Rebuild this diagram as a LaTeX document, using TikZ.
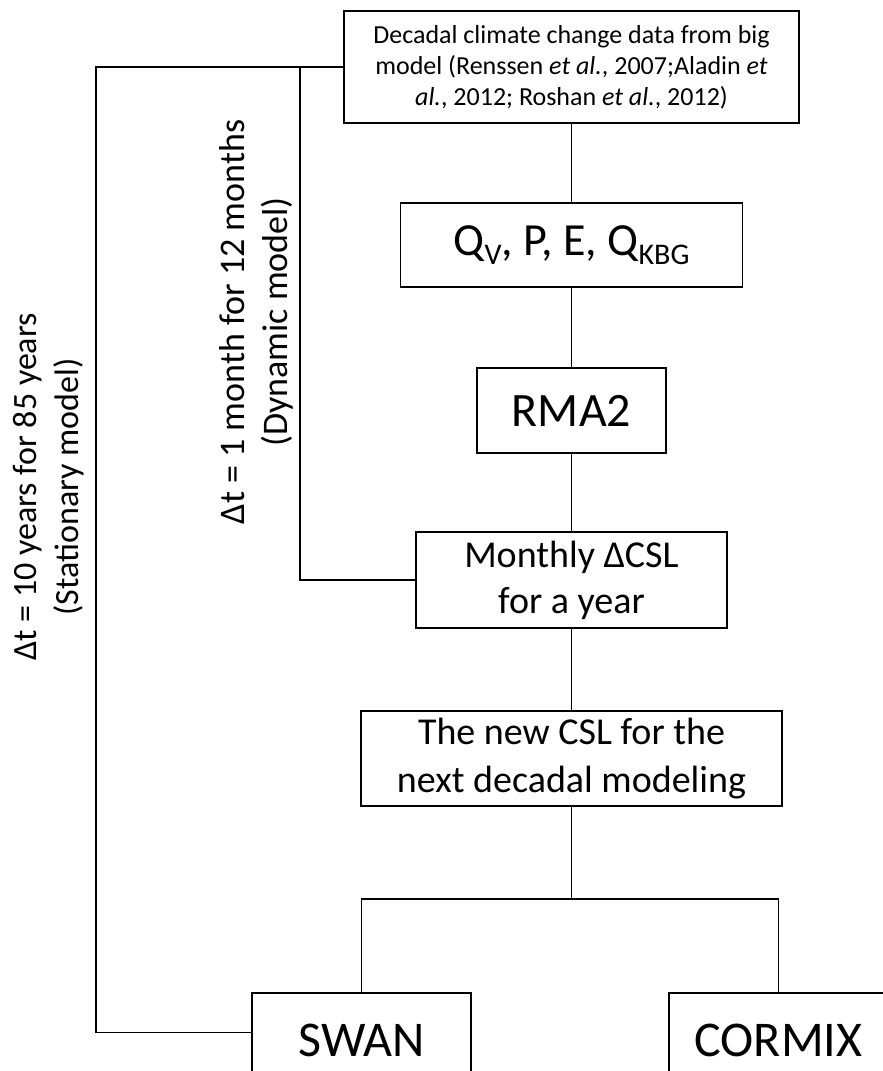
\documentclass[tikz,border=0pt]{standalone}
\usepackage{fontspec}
\setmainfont{Carlito}
\tikzset{
  flowbox/.style={draw, line width=1.3pt, align=center, inner sep=0pt},
  link/.style={line width=1.3pt}
}
\newcommand{\fs}[2]{\fontsize{#1}{#2}\selectfont}
\newcommand{\lowsub}[1]{\raisebox{-9pt}{\fs{30}{30}#1}}

\begin{document}
\begin{tikzpicture}[x=1pt, y=-1pt]
\useasboundingbox (0,0) rectangle (883,1071);
\clip (0,0) rectangle (883,1071);
\node[flowbox, minimum width=455pt, minimum height=112pt, font=\fs{26}{31}] (data) at (571.5,67) {Decadal climate change data from big\\model (Renssen \textit{et al.}, 2007;Aladin \textit{et}\\\textit{al.}, 2012; Roshan \textit{et al.}, 2012)};
\node[flowbox, minimum width=342pt, minimum height=84pt, font=\fs{46}{50}] (drivers) at (571.5,245) {Q\lowsub{V}, P, E, Q\lowsub{KBG}};
\node[flowbox, minimum width=189pt, minimum height=85pt, font=\fs{48}{50}] (rma) at (571.5,410.5) {RMA2};
\node[flowbox, minimum width=311pt, minimum height=96pt, font=\fs{38}{46}] (monthly) at (571.5,580) {Monthly ΔCSL\\for a year};
\node[flowbox, minimum width=421pt, minimum height=95pt, font=\fs{38}{48}] (newcsl) at (571.5,758.5) {The new CSL for the\\next decadal modeling};
\node[flowbox, minimum width=219pt, minimum height=94pt, font=\fs{50}{50}] (swan) at (361.5,1040) {SWAN};
\node[flowbox, minimum width=219pt, minimum height=94pt, font=\fs{50}{50}] (cormix) at (778.5,1040) {CORMIX};
\node[rotate=90, align=center, font=\fs{34}{42}] (stationary) at (49,487) {Δt = 10 years for 85 years\\(Stationary model)};
\node[rotate=90, align=center, font=\fs{36}{43}] (dynamic) at (256,322) {Δt = 1 month for 12 months\\(Dynamic model)};
\coordinate (stat) at (96,67);
\coordinate (dyn) at (300,67);
\coordinate (split) at (571.5,899);
\draw[link] (data.west) -- (stat) |- ([yshift=-40pt]swan.north west);
\draw[link] (dyn) |- (monthly.west);
\draw[link] (data.south) -- (drivers.north);
\draw[link] (drivers.south) -- (rma.north);
\draw[link] (rma.south) -- (monthly.north);
\draw[link] (monthly.south) -- (newcsl.north);
\draw[link] (newcsl.south) -- (split);
\draw[link] (swan.north) |- (split) -| (cormix.north);
\end{tikzpicture}
\end{document}
